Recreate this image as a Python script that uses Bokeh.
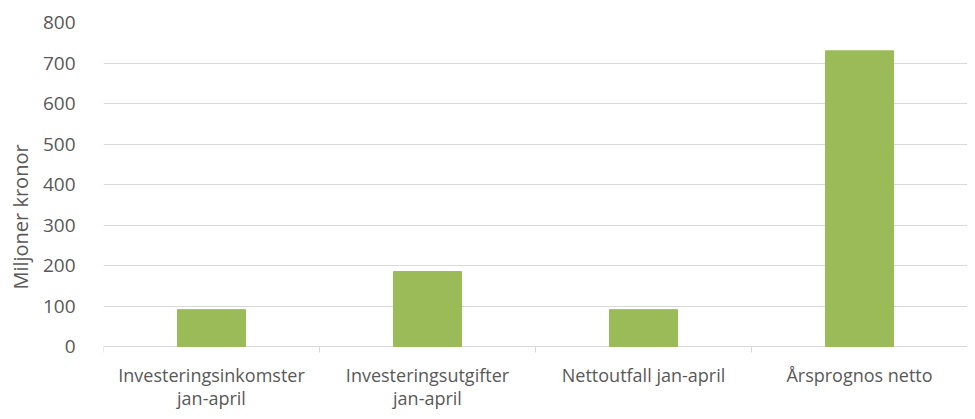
from bokeh.plotting import figure
from bokeh.models import Range1d, FixedTicker, LabelSet, ColumnDataSource
from bokeh.core.properties import value
from bokeh.embed import file_html
from bokeh.resources import INLINE

label_line1 = ["Investeringsinkomster", "Investeringsutgifter", "Nettoutfall jan-april", "Årsprognos netto"]
label_line2 = ["jan-april", "jan-april", "", ""]
values = [91, 185, 91, 730]
y_ticks = [0, 100, 200, 300, 400, 500, 600, 700, 800]

n = len(values)
centers = [i + 0.5 for i in range(n)]
bounds = [float(i) for i in range(n + 1)]

# layout: frame spans canvas rows 22..411; value axis 0..800 spans 324 px, leaving 65 px below zero for labels
H, TOP, AXIS_PX = 411, 22, 324
BELOW_PX = H - TOP - AXIS_PX
y_start = -BELOW_PX * y_ticks[-1] / AXIS_PX

p = figure(width=967, height=H, output_backend="svg", toolbar_location=None,
           x_range=Range1d(0, n), y_range=Range1d(y_start, y_ticks[-1]),
           x_axis_location=None,
           min_border_left=103, min_border_right=0, min_border_top=TOP, min_border_bottom=0)
p.outline_line_color = None
p.background_fill_color = "white"
p.border_fill_color = "white"

p.vbar(x=centers, top=values, width=0.315, fill_color="#9BBB59", line_color="#9BBB59")

font = "Open Sans"
txt = "#595959"
grid = "#D9D9D9"

p.yaxis.ticker = FixedTicker(ticks=y_ticks)
p.yaxis.axis_line_color = None
p.yaxis.major_tick_line_color = None
p.yaxis.minor_tick_line_color = None
p.yaxis.major_label_text_font = font
p.yaxis.major_label_text_font_size = "19px"
p.yaxis.major_label_text_color = txt
p.yaxis.major_label_standoff = 22
p.yaxis.axis_label = "Miljoner kronor"
p.yaxis.axis_label_text_font = font
p.yaxis.axis_label_text_font_size = "20px"
p.yaxis.axis_label_text_font_style = "normal"
p.yaxis.axis_label_text_color = txt
p.yaxis.axis_label_standoff = 6

p.xgrid.grid_line_color = None
p.ygrid.grid_line_color = grid
p.ygrid.ticker = FixedTicker(ticks=y_ticks)

# category boundary ticks below the baseline
p.ray(x=bounds, y=[0] * len(bounds), length=6, length_units="screen",
      angle=-90, angle_units="deg", line_color=grid, line_width=1)

src = ColumnDataSource(dict(x=centers, y=[0] * n, l1=label_line1, l2=label_line2))
for col, off in (("l1", -40), ("l2", -63)):
    p.add_layout(LabelSet(x="x", y="y", text=col, source=src, y_offset=off,
                          text_align="center", text_baseline="bottom",
                          text_font=value(font), text_font_size=value("18px"),
                          text_color=value(txt)))

open("out.html", "w").write(file_html(p, INLINE))
